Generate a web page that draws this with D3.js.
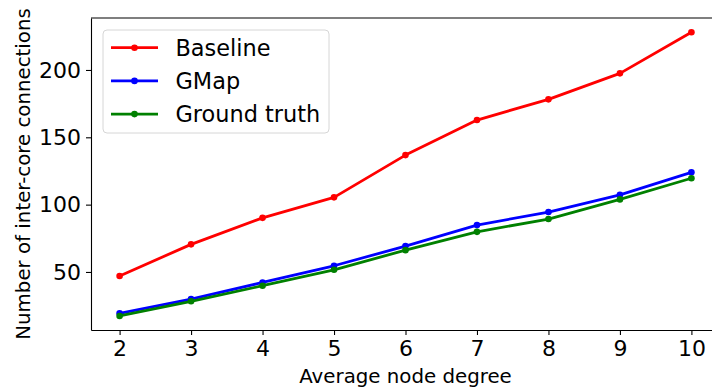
<!DOCTYPE html>
<html>
<head>
<meta charset="utf-8">
<script src="https://cdn.jsdelivr.net/npm/d3@7"></script>
<style>
  body { margin: 0; background: #fff; }
  svg { display: block; font-family: "DejaVu Sans", sans-serif; }
</style>
</head>
<body>
<div id="chart"></div>
<script>
// data
const degrees = [2, 3, 4, 5, 6, 7, 8, 9, 10];
const baseline = [47, 70.5, 90.2, 105.4, 136.8, 162.8, 178.2, 197.5, 228];
const gmap = [19.3, 29.9, 42.2, 54.6, 69.2, 84.8, 94.5, 107.3, 124];
const groundTruth = [17.3, 28.2, 39.8, 51.6, 66.2, 79.8, 89.3, 103.9, 119.6];
const seriesNames = ['Baseline', 'GMap', 'Ground truth'];
const seriesColors = ['#ff0000', '#0000ff', '#008000'];
const yTicks = [50, 100, 150, 200];

const width = 712, height = 387;
const margin = {top: 18, right: -8, bottom: 57, left: 91};

const svg = d3.select('#chart').append('svg')
  .attr('width', width)
  .attr('height', height);

const x = d3.scaleLinear()
  .domain([1.6, 10.4])
  .range([margin.left, width - margin.right]);
const y = d3.scaleLinear()
  .domain([6.9, 238.6])
  .range([height - margin.bottom, margin.top]);

// axes
const xAxis = svg.append('g')
  .attr('transform', 'translate(0,' + (height - margin.bottom) + ')')
  .call(d3.axisBottom(x).tickValues(degrees).tickSize(5).tickPadding(5).tickSizeOuter(0));
const yAxis = svg.append('g')
  .attr('transform', 'translate(' + margin.left + ',0)')
  .call(d3.axisLeft(y).tickValues(yTicks).tickSize(5).tickPadding(5).tickSizeOuter(0));

[xAxis, yAxis].forEach((g) => {
  g.select('.domain').attr('stroke', '#000').attr('stroke-width', 1.1);
  g.selectAll('.tick line').attr('stroke', '#000').attr('stroke-width', 1.1);
  g.selectAll('.tick text')
    .attr('fill', '#000')
    .style('font-size', '22px')
    .style('font-family', '"DejaVu Sans", sans-serif');
});

// top spine
svg.append('line')
  .attr('x1', margin.left).attr('x2', width)
  .attr('y1', margin.top).attr('y2', margin.top)
  .attr('stroke', '#000').attr('stroke-width', 1.1);

// lines
const allSeries = [baseline, gmap, groundTruth];
const line = d3.line()
  .x((d, i) => x(degrees[i]))
  .y((d) => y(d));

allSeries.forEach((vals, k) => {
  svg.append('path')
    .datum(vals)
    .attr('d', line)
    .attr('fill', 'none')
    .attr('stroke', seriesColors[k])
    .attr('stroke-width', 2.8)
    .attr('stroke-linejoin', 'round');
  svg.selectAll('.pt' + k)
    .data(vals)
    .enter()
    .append('circle')
    .attr('class', 'pt' + k)
    .attr('cx', (d, i) => x(degrees[i]))
    .attr('cy', (d) => y(d))
    .attr('r', 3.3)
    .attr('fill', seriesColors[k]);
});

// axis labels
svg.append('text')
  .attr('x', (margin.left + width - margin.right) / 2)
  .attr('y', 383)
  .attr('text-anchor', 'middle')
  .style('font-size', '19.8px')
  .text('Average node degree');

svg.append('text')
  .attr('transform', 'translate(29.5,' + ((margin.top + height - margin.bottom) / 2) + ') rotate(-90)')
  .attr('text-anchor', 'middle')
  .style('font-size', '19.8px')
  .text('Number of inter-core connections');

// legend
const legend = svg.append('g');
legend.append('rect')
  .attr('x', 103).attr('y', 30)
  .attr('width', 226).attr('height', 103)
  .attr('rx', 4)
  .attr('fill', 'rgba(255,255,255,0.8)')
  .attr('stroke', '#d6d6d6')
  .attr('stroke-width', 1);

seriesNames.forEach((name, k) => {
  const ly = 47.7 + k * 33.2;
  legend.append('line')
    .attr('x1', 111).attr('x2', 158)
    .attr('y1', ly).attr('y2', ly)
    .attr('stroke', seriesColors[k])
    .attr('stroke-width', 2.8);
  legend.append('circle')
    .attr('cx', 134.5).attr('cy', ly).attr('r', 3.3)
    .attr('fill', seriesColors[k]);
  legend.append('text')
    .attr('x', 175.5)
    .attr('y', ly)
    .attr('dy', '0.36em')
    .style('font-size', '22.4px')
    .text(name);
});
</script>
</body>
</html>
